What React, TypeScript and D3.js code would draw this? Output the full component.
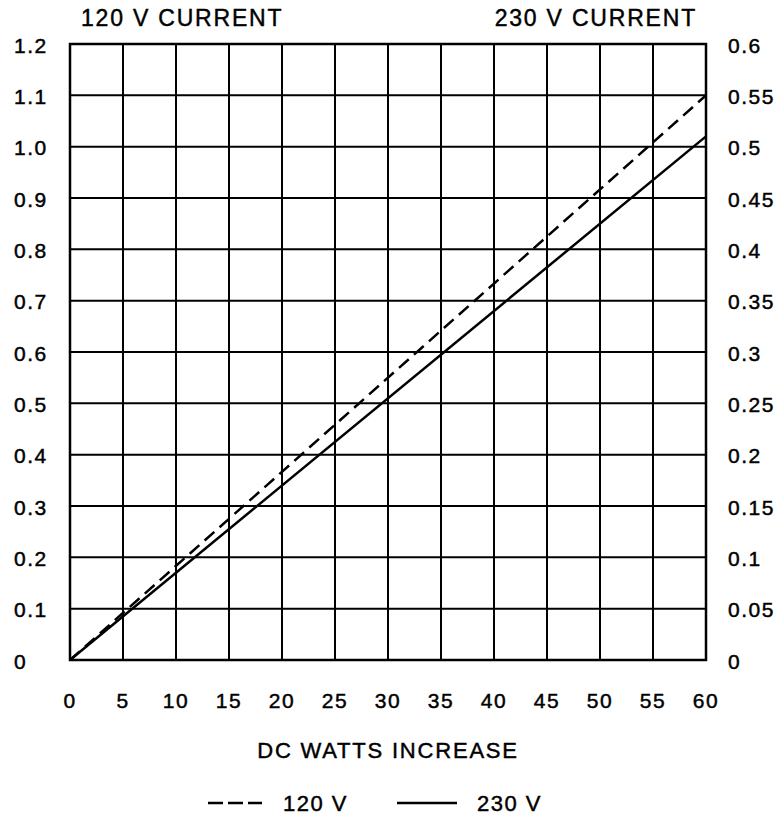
import * as d3 from 'd3';

// chart values
const watts = [0, 60];
const amps120 = [0, 1.1];
const amps230 = [0, 0.51];
const xTicks = [0, 5, 10, 15, 20, 25, 30, 35, 40, 45, 50, 55, 60];
const leftTicks = [0, 0.1, 0.2, 0.3, 0.4, 0.5, 0.6, 0.7, 0.8, 0.9, 1.0, 1.1, 1.2];
const rightTicks = [0, 0.05, 0.1, 0.15, 0.2, 0.25, 0.3, 0.35, 0.4, 0.45, 0.5, 0.55, 0.6];
const leftLabels = ['0', '0.1', '0.2', '0.3', '0.4', '0.5', '0.6', '0.7', '0.8', '0.9', '1.0', '1.1', '1.2'];
const rightLabels = ['0', '0.05', '0.1', '0.15', '0.2', '0.25', '0.3', '0.35', '0.4', '0.45', '0.5', '0.55', '0.6'];

const font = '"Liberation Sans", Arial, sans-serif';

const App = () => {
  const x = d3.scaleLinear().domain([0, 60]).range([70, 706]);
  const yL = d3.scaleLinear().domain([0, 1.2]).range([660, 44]);
  const yR = d3.scaleLinear().domain([0, 0.6]).range([660, 44]);

  const pts120 = watts.map((w, i) => [w, amps120[i]] as [number, number]);
  const pts230 = watts.map((w, i) => [w, amps230[i]] as [number, number]);
  const line120 = d3.line<[number, number]>().x(d => x(d[0])).y(d => yL(d[1]));
  const line230 = d3.line<[number, number]>().x(d => x(d[0])).y(d => yR(d[1]));

  // scanned text looks a little heavier than regular weight
  const txt = { fontFamily: font, fontSize: 21, letterSpacing: 1.5, fill: '#000', stroke: '#000', strokeWidth: 0.45 };

  return (
    <svg width={778} height={816} style={{ position: 'absolute', left: 0, top: 0, background: '#fff' }}>
      {/* grid */}
      {xTicks.map(t => (
        <line key={'vx' + t} x1={x(t)} x2={x(t)} y1={yL(0)} y2={yL(1.2)} stroke="#000" strokeWidth={2} />
      ))}
      {leftTicks.map(t => (
        <line key={'hy' + t} x1={x(0)} x2={x(60)} y1={yL(t)} y2={yL(t)} stroke="#000" strokeWidth={2} />
      ))}
      <rect x={x(0)} y={yL(1.2)} width={x(60) - x(0)} height={yL(0) - yL(1.2)} fill="none" stroke="#000" strokeWidth={2.5} />

      {/* series */}
      <path d={line120(pts120) ?? ''} fill="none" stroke="#000" strokeWidth={2.5} strokeDasharray="13,7" />
      <path d={line230(pts230) ?? ''} fill="none" stroke="#000" strokeWidth={2.5} />

      {/* left axis labels */}
      {leftTicks.map((t, i) => (
        <text key={'ll' + t} x={14} y={yL(t) + 3} dominantBaseline="middle" {...txt}>
          {leftLabels[i]}
        </text>
      ))}
      {/* right axis labels */}
      {rightTicks.map((t, i) => (
        <text key={'rl' + t} x={728} y={yR(t) + 3} dominantBaseline="middle" {...txt}>
          {rightLabels[i]}
        </text>
      ))}
      {/* x labels */}
      {xTicks.map(t => (
        <text key={'xl' + t} x={x(t)} y={708} textAnchor="middle" {...txt}>
          {t}
        </text>
      ))}

      {/* titles */}
      <text x={81} y={26} {...txt} fontSize={23} letterSpacing={1.8}>120 V CURRENT</text>
      <text x={697} y={26} textAnchor="end" {...txt} fontSize={23} letterSpacing={1.8}>230 V CURRENT</text>
      <text x={(x(0) + x(60)) / 2} y={758} textAnchor="middle" {...txt} fontSize={22} letterSpacing={1.8}>
        DC WATTS INCREASE
      </text>

      {/* legend */}
      <line x1={208} x2={262} y1={803} y2={803} stroke="#000" strokeWidth={2.5} strokeDasharray="15,5" />
      <text x={283} y={811} {...txt} fontSize={22}>120 V</text>
      <line x1={397} x2={457} y1={803} y2={803} stroke="#000" strokeWidth={2.5} />
      <text x={477} y={811} {...txt} fontSize={22}>230 V</text>
    </svg>
  );
};

export default App;
